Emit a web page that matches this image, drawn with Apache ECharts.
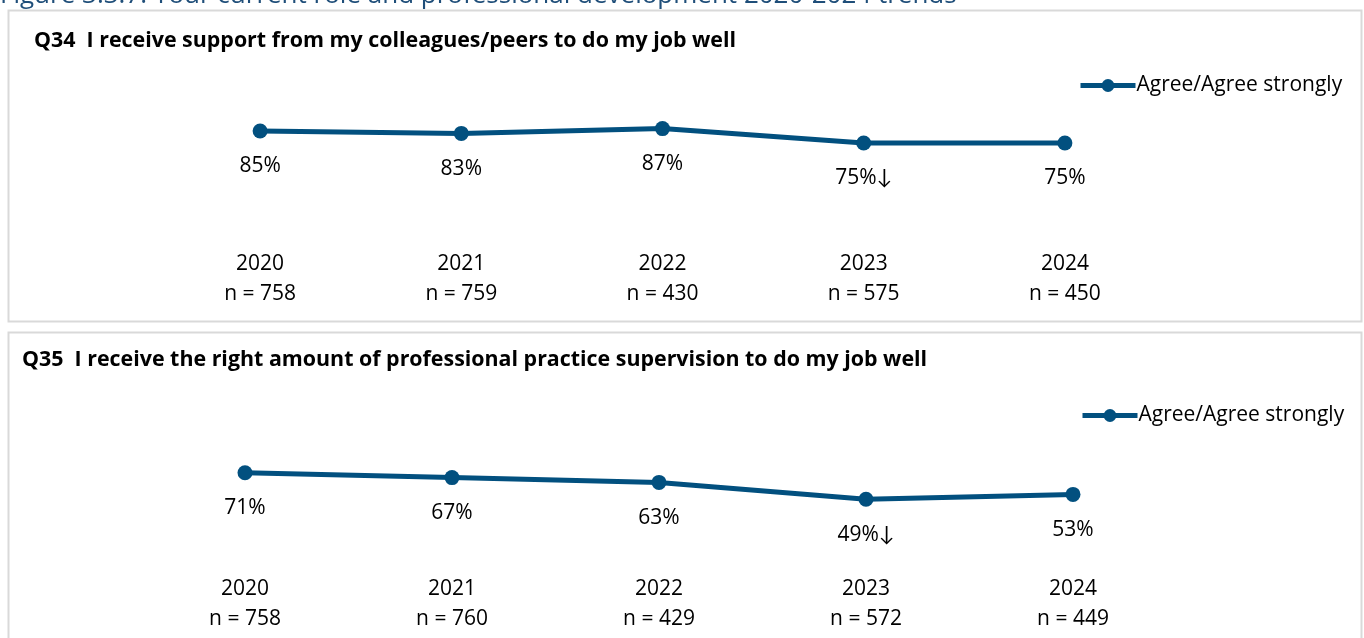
<!DOCTYPE html>
<html>
<head>
<meta charset="utf-8">
<script src="https://cdn.jsdelivr.net/npm/echarts@6/dist/echarts.min.js"></script>
<style>
html,body{margin:0;padding:0;background:#fff;}
#c{width:1364px;height:638px;}
</style>
</head>
<body>
<div id="c"></div>
<script>
const years = ['2020','2021','2022','2023','2024'];
const nQ34 = [758, 759, 430, 575, 450];
const nQ35 = [758, 760, 429, 572, 449];
const q34 = [85, 83, 87, 75, 75];
const q35 = [71, 67, 63, 49, 53];
const sigDownQ34 = [false, false, false, true, false];
const sigDownQ35 = [false, false, false, true, false];
const seriesName = 'Agree/Agree strongly';
const titleQ34 = 'Q34  I receive support from my colleagues/peers to do my job well';
const titleQ35 = 'Q35  I receive the right amount of professional practice supervision to do my job well';
const figureTitle = 'Figure 3.3.7: Your current role and professional development 2020-2024 trends';

const FONT = '"Open Sans", Lato, sans-serif';
const BLUE = '#02507f';

function xAxisFor(idx, ns){
  return {
    type:'category', gridIndex: idx, data: years,
    axisLine:{show:false}, axisTick:{show:false},
    axisLabel:{
      margin: 16,
      formatter: (v, i) => '{a|' + v + '}\n{a|n = ' + ns[i] + '}',
      rich:{a:{fontSize:21, lineHeight:30, color:'#000', fontFamily:FONT}}
    }
  };
}
function yAxisFor(idx){
  return {type:'value', gridIndex: idx, min:0, max:100, show:false};
}
function seriesFor(idx, vals, sig){
  return {
    name: seriesName, type:'line', xAxisIndex: idx, yAxisIndex: idx,
    data: vals,
    symbol:'circle', symbolSize:15,
    lineStyle:{color:BLUE, width:5},
    itemStyle:{color:BLUE},
    label:{
      show:true, position:'bottom', distance:16,
      fontSize:21, lineHeight:24, color:'#000', fontFamily:FONT,
      formatter: p => p.value + '%' + (sig[p.dataIndex] ? '\u2193' : '')
    },
    emphasis:{disabled:true},
    animation:false
  };
}
function legendFor(left, top){
  return {left:left, top:top, padding:0, itemWidth:55, itemHeight:16, itemGap:0,
    lineStyle:{width:5, color:BLUE},
    textStyle:{fontSize:21, color:'#000', fontFamily:FONT, padding:[0,0,0,-4]},
    data:[seriesName], selectedMode:false};
}

const chart = echarts.init(document.getElementById('c'), null, {renderer:'canvas'});
chart.setOption({
  animation:false,
  backgroundColor:'#fff',
  grid:[
    {left:159.5, width:1006, top:113, height:120},
    {left:141.5, width:1035, top:438, height:120}
  ],
  xAxis:[xAxisFor(0, nQ34), xAxisFor(1, nQ35)],
  yAxis:[yAxisFor(0), yAxisFor(1)],
  legend:[legendFor(1078, 75), legendFor(1080, 405)],
  series:[seriesFor(0, q34, sigDownQ34), seriesFor(1, q35, sigDownQ35)],
  graphic:[
    {type:'text', left:0, top:-17, silent:true,
     style:{text:figureTitle, fontSize:26, fontFamily:FONT, fill:'#1f4e79'}},
    {type:'rect', shape:{x:8.5, y:10.5, width:1353, height:311}, silent:true,
     style:{fill:'none', stroke:'#d9d9d9', lineWidth:2}},
    {type:'rect', shape:{x:8.5, y:332.5, width:1353, height:330}, silent:true,
     style:{fill:'none', stroke:'#d9d9d9', lineWidth:2}},
    {type:'text', x:34, y:41, silent:true,
     style:{text:titleQ34, fontSize:21.4, fontWeight:'bold', fontFamily:FONT, fill:'#000', verticalAlign:'middle'}},
    {type:'text', x:22, y:360, silent:true,
     style:{text:titleQ35, fontSize:21.4, fontWeight:'bold', fontFamily:FONT, fill:'#000', verticalAlign:'middle'}}
  ]
});
</script>
</body>
</html>
